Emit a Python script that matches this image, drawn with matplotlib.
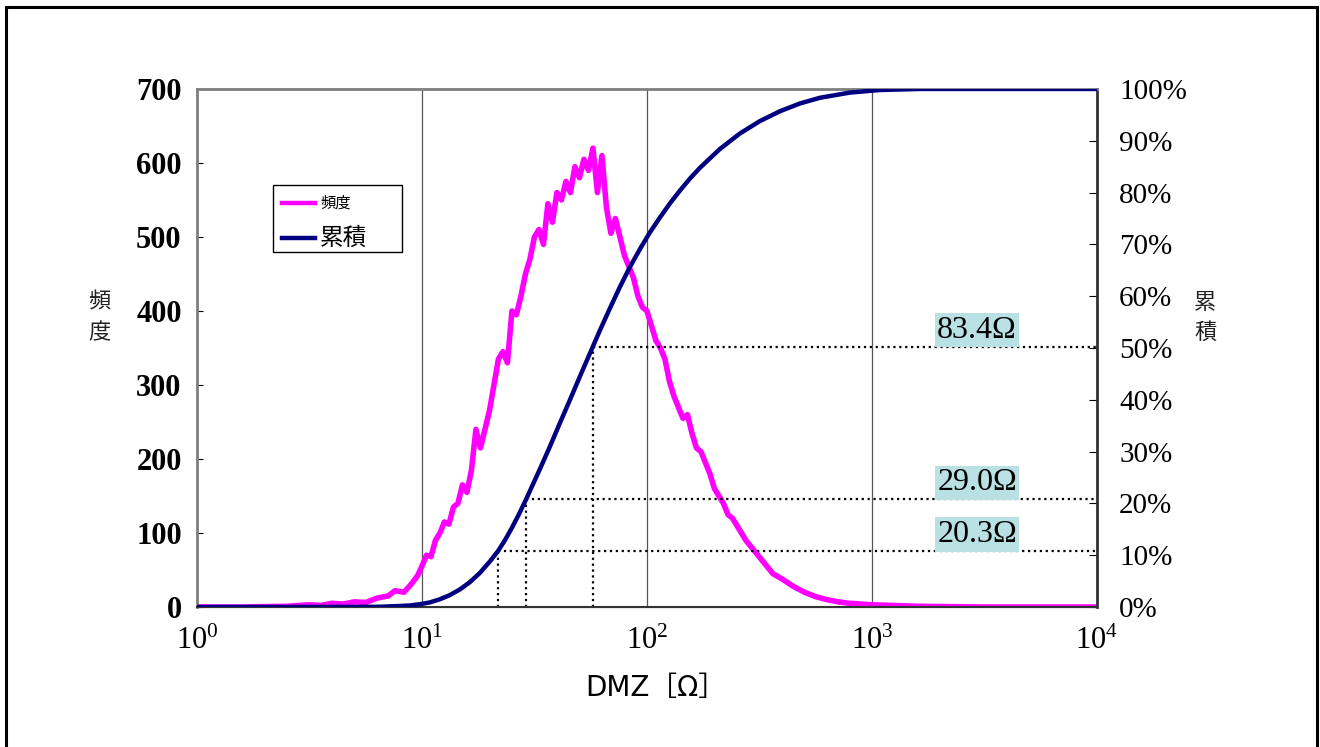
import matplotlib
matplotlib.use("Agg")
import matplotlib.pyplot as plt
import numpy as np
from matplotlib.patches import Rectangle
from matplotlib.lines import Line2D
from matplotlib.ticker import FuncFormatter

plt.rcParams['font.family'] = ['Liberation Serif', 'Noto Sans CJK JP']
plt.rcParams['mathtext.fontset'] = 'custom'
plt.rcParams['mathtext.rm'] = 'Liberation Serif'
plt.rcParams['mathtext.it'] = 'Liberation Serif'

# 頻度 (度数) : log10(DMZ) と 頻度
freq_log = [0.00, 0.20, 0.40, 0.50, 0.55, 0.60, 0.65, 0.70, 0.75, 0.80, 0.85, 0.88,
            0.92, 0.95, 0.98, 1.00, 1.02, 1.04, 1.06, 1.08, 1.10, 1.12, 1.14, 1.16,
            1.18, 1.20, 1.22, 1.24, 1.26, 1.28, 1.30, 1.32, 1.34, 1.36, 1.38, 1.40,
            1.42, 1.44, 1.46, 1.48, 1.50, 1.52, 1.54, 1.56, 1.58, 1.60, 1.62, 1.64,
            1.66, 1.68, 1.70, 1.72, 1.74, 1.76, 1.78, 1.80, 1.82, 1.84, 1.86, 1.88,
            1.90, 1.92, 1.94, 1.96, 1.98, 2.00, 2.02, 2.04, 2.06, 2.08, 2.10, 2.12,
            2.14, 2.16, 2.18, 2.20, 2.22, 2.24, 2.26, 2.28, 2.30, 2.32, 2.34, 2.36,
            2.38, 2.40, 2.44, 2.48, 2.52, 2.56, 2.60, 2.65, 2.70, 2.75, 2.80, 2.85,
            2.90, 3.00, 3.20, 3.50, 4.00]
freq_val = [0, 0, 1, 3, 2, 5, 4, 7, 6, 12, 15, 22,
            20, 30, 42, 55, 70, 68, 90, 100, 115, 112, 135, 140,
            165, 155, 185, 240, 215, 240, 265, 300, 335, 345, 330, 400,
            395, 420, 450, 470, 500, 510, 490, 545, 520, 560, 550, 575,
            560, 595, 580, 605, 590, 620, 560, 610, 540, 505, 525, 500,
            475, 460, 445, 420, 405, 400, 380, 360, 350, 335, 305, 285,
            270, 255, 260, 235, 215, 210, 195, 180, 160, 150, 140, 125,
            120, 110, 90, 75, 60, 45, 38, 28, 20, 14, 10, 7,
            5, 3, 1, 0, 0]

# 累積 (%)
cum_log = [0.00, 0.60, 0.813, 0.902, 0.947, 1.000, 1.036, 1.080, 1.124, 1.169, 1.213,
           1.258, 1.302, 1.338, 1.369, 1.400, 1.431, 1.462, 1.524, 1.569, 1.613, 1.658,
           1.702, 1.760, 1.791, 1.836, 1.880, 1.924, 1.969, 2.013, 2.058, 2.102, 2.147,
           2.191, 2.236, 2.324, 2.413, 2.502, 2.591, 2.680, 2.769, 2.902, 3.036, 3.213,
           4.00]
cum_val = [0, 0.01, 0.05, 0.2, 0.3, 0.6, 0.9, 1.5, 2.3, 3.4, 4.8,
           6.6, 8.8, 10.8, 12.9, 15.3, 17.9, 20.7, 26.6, 31.0, 35.5, 40.0,
           44.5, 50.3, 53.4, 57.7, 61.8, 65.6, 69.1, 72.3, 75.2, 77.9, 80.4,
           82.7, 84.8, 88.4, 91.4, 93.8, 95.7, 97.2, 98.3, 99.3, 99.8, 100,
           100]

# 目盛り線 (DMZ位置, 累積%, ラベル)
mark_x = [21.8, 29.0, 57.6]
mark_y = [10.8, 20.8, 50.2]
mark_lbl = ['20.3Ω', '29.0Ω', '83.4Ω']

xticks = [1, 10, 100, 1000, 10000]
xtick_lbl = ['$10^0$', '$10^1$', '$10^2$', '$10^3$', '$10^4$']

fig = plt.figure(figsize=(13.2, 7.47), dpi=100)
ax = fig.add_axes([0.1492, 0.1874, 0.6818, 0.6935])
ax2 = ax.twinx()

ax.plot(10 ** np.array(freq_log), freq_val, color='#FF00FF', lw=4, zorder=3)
ax2.plot(10 ** np.array(cum_log), np.array(cum_val) / 100, color='#000080', lw=3.2,
         zorder=3, solid_joinstyle='round')

ax.set_xscale('log')
ax.set_xlim(1, 10000)
ax.set_ylim(0, 700)
ax2.set_ylim(0, 1)
ax.set_xticks(xticks)
ax.set_xticklabels(xtick_lbl, fontsize=22)
ax.minorticks_off()
ax.tick_params(axis='x', length=0, pad=14)
ax.set_yticks(range(0, 701, 100))
ax.tick_params(axis='y', direction='in', length=4, pad=11, labelsize=22)
for t in ax.get_yticklabels():
    t.set_fontweight('bold')
ax2.set_yticks(np.arange(0, 1.01, 0.1))
ax2.yaxis.set_major_formatter(FuncFormatter(lambda v, p: f'{v * 100:.0f}%'))
ax2.tick_params(axis='y', direction='in', length=6, pad=16, labelsize=21)

for xt in xticks[1:-1]:
    ax.axvline(xt, color='#555555', lw=0.9, zorder=1)

for s in ['left', 'top']:
    ax2.spines[s].set_color('#7f7f7f')
    ax2.spines[s].set_linewidth(2)
ax2.spines['bottom'].set_color('#333333')
ax2.spines['bottom'].set_linewidth(1.5)
ax2.spines['right'].set_color('#333333')
ax2.spines['right'].set_linewidth(2)

for mx, my, lb in zip(mark_x, mark_y, mark_lbl):
    ax2.plot([mx, mx], [0, my / 100], color='black', ls=':', lw=1.6, zorder=2)
    ax2.plot([mx, 10000], [my / 100, my / 100], color='black', ls=':', lw=1.6, zorder=2)
    ax2.text(1950, my / 100 + 0.004, lb, fontsize=23, va='bottom', ha='left',
             bbox=dict(boxstyle='square,pad=0.08', fc='#b9e0e2', ec='none'), zorder=4)

# 凡例
ax2.add_patch(Rectangle((0.0844, 0.685), 0.1433, 0.1297, transform=ax2.transAxes,
                        fill=True, fc='white', ec='black', lw=1, zorder=5))
leg_items = [('頻度', '#FF00FF', 11, 0.780), ('累積', '#000080', 17, 0.712)]
for lb, c, fs, yy in leg_items:
    ax2.add_line(Line2D([0.0944, 0.1311], [yy, yy], transform=ax2.transAxes,
                        color=c, lw=3.2, zorder=6))
    ax2.text(0.1367, yy, lb, transform=ax2.transAxes, fontsize=fs,
             family='Noto Sans CJK JP', va='center', ha='left', zorder=6)

fig.text(0.0755, 0.575, '頻\n度', fontsize=16, family='Noto Sans CJK JP',
         ha='center', va='center', linespacing=1.4, color='#222222')
fig.text(0.913, 0.575, '累\n積', fontsize=16, family='Noto Sans CJK JP',
         ha='center', va='center', linespacing=1.4, color='#222222')
fig.text(0.497, 0.079, 'DMZ［Ω］', fontsize=20, family=['DejaVu Sans', 'Noto Sans CJK JP'],
         ha='center', va='center')

fig.patches.append(Rectangle((0.0045, -0.01), 0.9935, 1.0006,
                             transform=fig.transFigure, fill=False, ec='black', lw=2.2))

fig.savefig('out.png', dpi=100)
